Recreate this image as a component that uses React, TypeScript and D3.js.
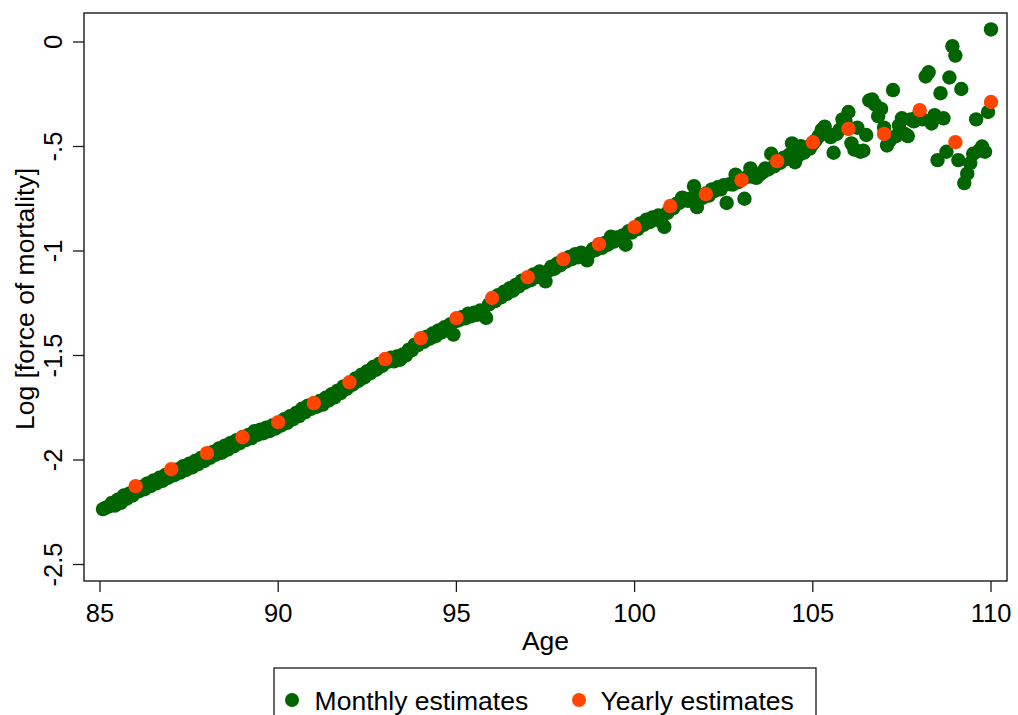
import React from "react";
import { scaleLinear } from "d3";

// monthly estimates, one row per year of age (85 -> 110)
const monthlyLogMu: number[] = [
  -2.235, -2.228, -2.222, -2.205, -2.218, -2.19, -2.205, -2.17, -2.185, -2.16, -2.17, -2.145,
  -2.15, -2.128, -2.14, -2.112, -2.125, -2.098, -2.112, -2.085, -2.1, -2.072, -2.085, -2.06,
  -2.072, -2.045, -2.06, -2.03, -2.048, -2.018, -2.035, -2.005, -2.02, -1.99, -2.005, -1.978,
  -1.99, -1.962, -1.975, -1.945, -1.965, -1.932, -1.95, -1.918, -1.935, -1.905, -1.92, -1.89,
  -1.905, -1.88, -1.895, -1.862, -1.88, -1.855, -1.872, -1.845, -1.862, -1.835, -1.85, -1.825,
  -1.835, -1.805, -1.822, -1.79, -1.805, -1.775, -1.79, -1.755, -1.772, -1.74, -1.755, -1.728,
  -1.745, -1.718, -1.735, -1.702, -1.715, -1.685, -1.7, -1.668, -1.68, -1.648, -1.66, -1.632,
  -1.64, -1.61, -1.622, -1.592, -1.605, -1.575, -1.585, -1.555, -1.568, -1.54, -1.55, -1.522,
  -1.53, -1.51, -1.528, -1.505, -1.52, -1.495, -1.5, -1.472, -1.475, -1.448, -1.45, -1.428,
  -1.435, -1.41, -1.42, -1.395, -1.408, -1.38, -1.39, -1.365, -1.375, -1.35, -1.4, -1.335,
  -1.33, -1.315, -1.322, -1.3, -1.312, -1.295, -1.305, -1.285, -1.3, -1.32, -1.255, -1.24,
  -1.24, -1.212, -1.222, -1.195, -1.205, -1.178, -1.19, -1.162, -1.17, -1.142, -1.152, -1.13,
  -1.14, -1.112, -1.125, -1.098, -1.11, -1.145, -1.095, -1.075, -1.085, -1.06, -1.068, -1.045,
  -1.05, -1.028, -1.038, -1.015, -1.03, -1.008, -1.02, -1.045, -1.008, -0.99, -0.995, -0.972,
  -0.985, -0.962, -0.97, -0.932, -0.955, -0.935, -0.948, -0.925, -0.97, -0.905, -0.912, -0.89,
  -0.895, -0.868, -0.875, -0.85, -0.862, -0.84, -0.85, -0.83, -0.86, -0.885, -0.818, -0.795,
  -0.795, -0.775, -0.77, -0.745, -0.75, -0.76, -0.748, -0.69, -0.79, -0.74, -0.745, -0.725,
  -0.735, -0.705, -0.712, -0.695, -0.705, -0.685, -0.77, -0.68, -0.682, -0.635, -0.67, -0.655,
  -0.75, -0.645, -0.605, -0.645, -0.65, -0.635, -0.625, -0.605, -0.61, -0.535, -0.595, -0.572,
  -0.578, -0.555, -0.56, -0.54, -0.485, -0.575, -0.545, -0.498, -0.53, -0.505, -0.51, -0.488,
  -0.47, -0.45, -0.42, -0.405, -0.44, -0.455, -0.53, -0.44, -0.42, -0.37, -0.38, -0.335,
  -0.485, -0.515, -0.41, -0.525, -0.52, -0.445, -0.28, -0.275, -0.3, -0.355, -0.32, -0.41,
  -0.495, -0.47, -0.23, -0.45, -0.4, -0.365, -0.44, -0.45, -0.37, -0.38, -0.36, -0.365,
  -0.37, -0.165, -0.145, -0.39, -0.35, -0.565, -0.245, -0.365, -0.525, -0.17, -0.02, -0.065,
  -0.565, -0.225, -0.675, -0.63, -0.58, -0.535, -0.37, -0.52, -0.5, -0.525, -0.335, 0.06,
];
const monthlyAges = monthlyLogMu.map((_, i) => 85 + (i + 1) / 12);

const yearlyAges = [86, 87, 88, 89, 90, 91, 92, 93, 94, 95, 96, 97, 98, 99, 100, 101, 102, 103, 104, 105, 106, 107, 108, 109, 110];
const yearlyLogMu = [
  -2.125, -2.044, -1.967, -1.891, -1.819, -1.728, -1.628, -1.517, -1.417, -1.321, -1.225, -1.125, -1.039,
  -0.967, -0.886, -0.785, -0.728, -0.661, -0.57, -0.48, -0.416, -0.44, -0.326, -0.479, -0.287,
];

const xTicks = [85, 90, 95, 100, 105, 110];
const yTicks = [0, -0.5, -1, -1.5, -2, -2.5];
const yTickLabels = ["0", "-.5", "-1", "-1.5", "-2", "-2.5"];

const GREEN = "#006400";
const ORANGE = "#FF4500";
const FONT = "'Liberation Sans', Arial, sans-serif";

const App: React.FC = () => {
  const width = 1018;
  const height = 715;
  const frame = { left: 84, right: 1007, top: 13, bottom: 581 };

  const x = scaleLinear().domain([85, 110]).range([100, 991]);
  const y = scaleLinear().domain([0, -2.5]).range([42, 564.5]);
  const r = 7.2;

  return (
    <svg
      width={width}
      height={height}
      style={{ position: "absolute", left: 0, top: 0, display: "block", background: "#fff" }}
      fontFamily={FONT}
    >
      <rect x={0} y={0} width={width} height={height} fill="#fff" />

      {/* markers */}
      <g>
        {monthlyLogMu.map((v, i) => (
          <circle key={"m" + i} cx={x(monthlyAges[i])} cy={y(v)} r={r} fill={GREEN} />
        ))}
      </g>
      <g>
        {yearlyLogMu.map((v, i) => (
          <circle key={"y" + i} cx={x(yearlyAges[i])} cy={y(v)} r={r} fill={ORANGE} />
        ))}
      </g>

      {/* plot frame */}
      <rect
        x={frame.left}
        y={frame.top}
        width={frame.right - frame.left}
        height={frame.bottom - frame.top}
        fill="none"
        stroke="#1a1a1a"
        strokeWidth={1.4}
      />

      {/* y axis */}
      <g>
        {yTicks.map((t, i) => (
          <g key={"yt" + i}>
            <line x1={73} x2={frame.left} y1={y(t)} y2={y(t)} stroke="#1a1a1a" strokeWidth={1.3} />
            <text
              transform={`translate(62,${y(t)}) rotate(-90)`}
              textAnchor="middle"
              fontSize={25.5}
              fill="#000"
            >
              {yTickLabels[i]}
            </text>
          </g>
        ))}
        <text transform="translate(34,299) rotate(-90)" textAnchor="middle" fontSize={26.5} fill="#000">
          Log [force of mortality]
        </text>
      </g>

      {/* x axis */}
      <g>
        {xTicks.map((t) => (
          <g key={"xt" + t}>
            <line x1={x(t)} x2={x(t)} y1={frame.bottom} y2={592} stroke="#1a1a1a" strokeWidth={1.3} />
            <text x={x(t)} y={622} textAnchor="middle" fontSize={25.5} fill="#000">
              {t}
            </text>
          </g>
        ))}
        <text x={545.5} y={650} textAnchor="middle" fontSize={26.5} fill="#000">
          Age
        </text>
      </g>

      {/* legend */}
      <g>
        <rect x={274} y={668} width={542} height={70} fill="#fff" stroke="#1a1a1a" strokeWidth={1.3} />
        <circle cx={292} cy={700} r={7} fill={GREEN} />
        <text x={314.6} y={709.5} fontSize={26.5} fill="#000">
          Monthly estimates
        </text>
        <circle cx={579} cy={700} r={7} fill={ORANGE} />
        <text x={600.4} y={709.5} fontSize={26.5} fill="#000">
          Yearly estimates
        </text>
      </g>
    </svg>
  );
};

export default App;
